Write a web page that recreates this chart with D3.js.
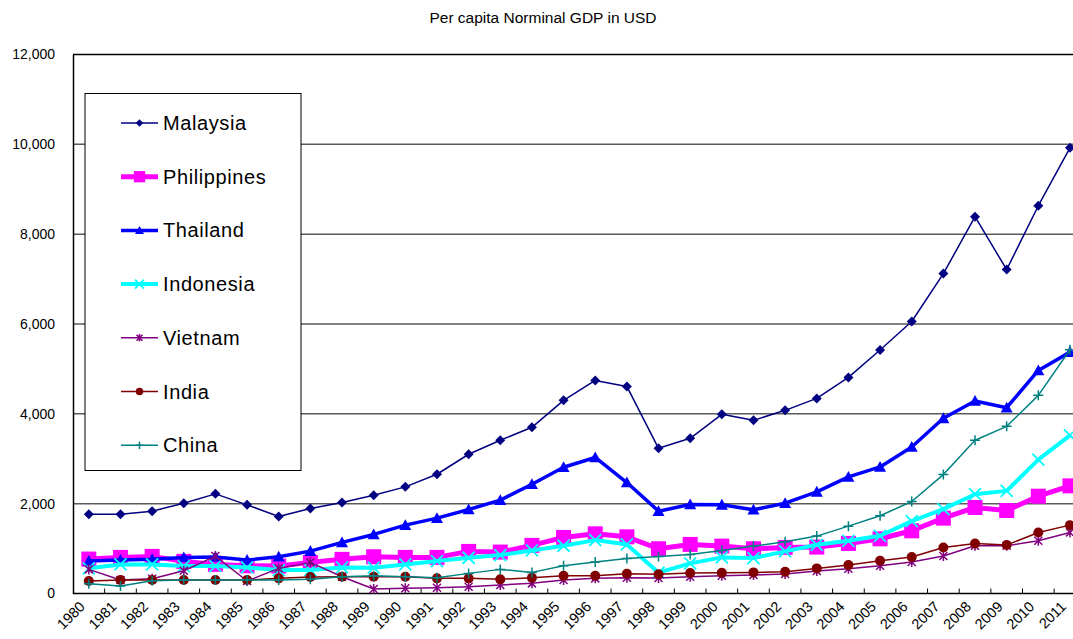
<!DOCTYPE html>
<html>
<head>
<meta charset="utf-8">
<script src="https://cdn.jsdelivr.net/npm/d3@7"></script>
<style>
  html, body { margin: 0; padding: 0; background: #fff; }
  svg { display: block; }
  text { font-family: "Liberation Sans", Arial, sans-serif; fill: #000; }
</style>
</head>
<body>
<svg id="chart" width="1073" height="639"></svg>
<script>
// Per capita nominal GDP (USD), 1980-2011
const years = d3.range(1980, 2012).map(String);

const malaysia = [1767, 1765, 1833, 2011, 2218, 1974, 1715, 1893, 2026, 2189, 2374, 2655,
  3100, 3411, 3700, 4300, 4744, 4611, 3233, 3455, 3989, 3855, 4078, 4344, 4811, 5420,
  6055, 7122, 8389, 7211, 8633, 9922];
const philippines = [767, 804, 826, 715, 648, 618, 611, 693, 760, 818, 804, 804, 937, 922,
  1071, 1248, 1329, 1262, 996, 1093, 1055, 996, 1026, 1033, 1115, 1218, 1396, 1678, 1915,
  1848, 2166, 2396];
const thailand = [722, 744, 760, 804, 811, 744, 818, 944, 1137, 1315, 1522, 1678, 1870, 2078,
  2433, 2811, 3028, 2470, 1833, 1981, 1974, 1863, 2011, 2263, 2596, 2818, 3263, 3900, 4285,
  4137, 4967, 5374];
const indonesia = [560, 648, 648, 611, 611, 581, 522, 522, 581, 574, 648, 722, 796, 855, 959,
  1063, 1189, 1093, 463, 670, 804, 789, 937, 1085, 1174, 1285, 1611, 1878, 2211, 2285, 2981,
  3522];
const vietnam = [537, 300, 330, 507, 833, 278, 559, 693, 374, 100, 115, 130, 152, 189, 226,
  300, 337, 352, 344, 374, 396, 411, 433, 500, 552, 618, 700, 833, 1063, 1063, 1174, 1359];
const india = [278, 300, 300, 300, 300, 300, 337, 367, 374, 374, 374, 337, 337, 315, 352, 396,
  396, 441, 426, 455, 463, 470, 485, 559, 633, 730, 811, 1026, 1115, 1078, 1359, 1522];
const china = [218, 167, 285, 300, 300, 300, 300, 315, 374, 396, 374, 352, 448, 537, 470, 618,
  700, 781, 826, 870, 959, 1055, 1152, 1278, 1500, 1730, 2048, 2648, 3411, 3722, 4411, 5426];

const yTicks = [0, 2000, 4000, 6000, 8000, 10000, 12000];

const series = [
  { name: "Malaysia",    values: malaysia,    color: "#000080", width: 1.5, marker: "diamond",  size: 10 },
  { name: "Philippines", values: philippines, color: "#FF00FF", width: 5,   marker: "square",   size: 15 },
  { name: "Thailand",    values: thailand,    color: "#0000FF", width: 3.5, marker: "triangle", size: 12 },
  { name: "Indonesia",   values: indonesia,   color: "#00FFFF", width: 4,   marker: "cross",    size: 12 },
  { name: "Vietnam",     values: vietnam,     color: "#800080", width: 1.5, marker: "asterisk", size: 10 },
  { name: "India",       values: india,       color: "#800000", width: 1.5, marker: "circle",   size: 10 },
  { name: "China",       values: china,       color: "#008080", width: 1.5, marker: "plus",     size: 10 }
];

const svg = d3.select("#chart");
const plotLeft = 73, plotTop = 54.5, plotBottom = 593.5, plotRight = 73 + 32 * 31.65;

const x = d3.scaleBand().domain(years).range([plotLeft, plotRight]).padding(0);
const y = d3.scaleLinear().domain([0, 12000]).range([plotBottom, plotTop]);

// title
svg.append("text")
  .attr("x", 543).attr("y", 23)
  .attr("text-anchor", "middle")
  .style("font-size", "15.5px")
  .text("Per capita Norminal GDP in USD");

// horizontal gridlines
svg.append("g").selectAll("line")
  .data(yTicks.filter(v => v > 0 && v < 12000))
  .join("line")
  .attr("x1", plotLeft).attr("x2", plotRight)
  .attr("y1", d => y(d)).attr("y2", d => y(d))
  .attr("stroke", "#5a5a5a").attr("stroke-width", 1.5);

// top border of the plot area
svg.append("line")
  .attr("x1", plotLeft).attr("x2", plotRight)
  .attr("y1", y(12000)).attr("y2", y(12000))
  .attr("stroke", "#000").attr("stroke-width", 1.5);

// y axis
const yAxis = svg.append("g")
  .attr("transform", `translate(${plotLeft},0)`)
  .call(d3.axisLeft(y).tickValues(yTicks).tickSize(0).tickPadding(18).tickFormat(d3.format(",")));
yAxis.select(".domain").attr("stroke", "#000").attr("stroke-width", 1.5);
yAxis.selectAll("text").style("font-size", "14px").attr("fill", "#000");

// x axis: ticks between categories, pointing into the plot
const xAxis = svg.append("g").attr("transform", `translate(0,${plotBottom})`);
xAxis.append("line")
  .attr("x1", plotLeft).attr("x2", plotRight)
  .attr("stroke", "#000").attr("stroke-width", 1.5);
xAxis.selectAll("line.tick")
  .data(years.slice(1))
  .join("line")
  .attr("class", "tick")
  .attr("x1", d => x(d)).attr("x2", d => x(d))
  .attr("y1", 0).attr("y2", -5)
  .attr("stroke", "#000").attr("stroke-width", 1);
xAxis.selectAll("text")
  .data(years)
  .join("text")
  .attr("transform", d => `translate(${x(d) + x.bandwidth() / 2 - 3},${14}) rotate(-45)`)
  .attr("text-anchor", "end")
  .style("font-size", "14.5px")
  .text(d => d);

// marker shapes
function drawMarker(g, type, size, color) {
  const h = size / 2;
  switch (type) {
    case "diamond":
      g.append("path").attr("d", `M0,${-h}L${h},0L0,${h}L${-h},0Z`).attr("fill", color);
      break;
    case "square":
      g.append("rect").attr("x", -h).attr("y", -h).attr("width", size).attr("height", size).attr("fill", color);
      break;
    case "triangle":
      g.append("path").attr("d", `M0,${-h}L${h},${h * 0.8}L${-h},${h * 0.8}Z`).attr("fill", color);
      break;
    case "circle":
      g.append("circle").attr("r", h).attr("fill", color);
      break;
    case "cross":
      g.append("path").attr("d", `M${-h},${-h}L${h},${h}M${h},${-h}L${-h},${h}`)
        .attr("stroke", color).attr("stroke-width", 1.8).attr("fill", "none");
      break;
    case "plus":
      g.append("path").attr("d", `M${-h},0L${h},0M0,${-h}L0,${h}`)
        .attr("stroke", color).attr("stroke-width", 1.5).attr("fill", "none");
      break;
    case "asterisk":
      g.append("path").attr("d", `M${-h * 0.8},${-h * 0.8}L${h * 0.8},${h * 0.8}M${h * 0.8},${-h * 0.8}L${-h * 0.8},${h * 0.8}M0,${-h}L0,${h}`)
        .attr("stroke", color).attr("stroke-width", 1.5).attr("fill", "none");
      break;
  }
}

const line = d3.line()
  .x((d, i) => x(years[i]) + x.bandwidth() / 2)
  .y(d => y(d));

const plot = svg.append("g");
series.forEach(s => {
  const g = plot.append("g");
  g.append("path")
    .attr("d", line(s.values))
    .attr("fill", "none")
    .attr("stroke", s.color)
    .attr("stroke-width", s.width)
    .attr("stroke-linejoin", "round");
  s.values.forEach((v, i) => {
    const m = g.append("g")
      .attr("transform", `translate(${x(years[i]) + x.bandwidth() / 2},${y(v)})`);
    drawMarker(m, s.marker, s.size, s.color);
  });
});

// legend
const legend = svg.append("g");
legend.append("rect")
  .attr("x", 85).attr("y", 93.5).attr("width", 216).attr("height", 377)
  .attr("fill", "#fff").attr("stroke", "#000").attr("stroke-width", 1);
series.forEach((s, i) => {
  const ly = 123 + i * 53.7;
  const g = legend.append("g");
  g.append("line")
    .attr("x1", 121).attr("x2", 158).attr("y1", ly).attr("y2", ly)
    .attr("stroke", s.color).attr("stroke-width", s.width);
  const m = g.append("g").attr("transform", `translate(139.5,${ly})`);
  drawMarker(m, s.marker, s.size * 0.75, s.color);
  g.append("text")
    .attr("x", 163).attr("y", ly + 7)
    .style("font-size", "20px")
    .style("letter-spacing", "0.6px")
    .text(s.name);
});
</script>
</body>
</html>
